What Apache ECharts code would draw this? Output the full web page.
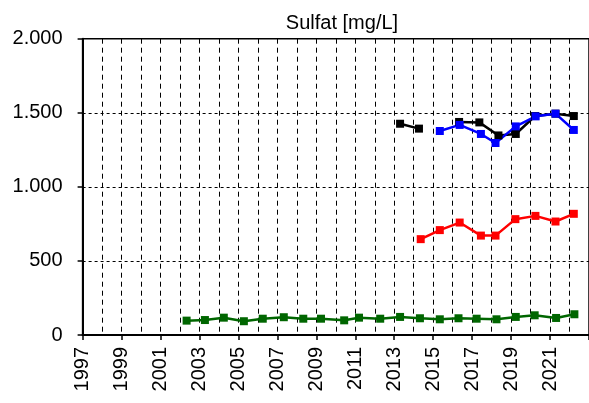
<!DOCTYPE html>
<html>
<head>
<meta charset="utf-8">
<script src="https://cdn.jsdelivr.net/npm/echarts@6/dist/echarts.min.js"></script>
<style>
	html, body { margin: 0; padding: 0; background: #fff; }
	#chart { width: 589px; height: 403px; }
</style>
</head>
<body>
<div id="chart"></div>
<script>
// sampling dates (decimal years) and Sulfat values [mg/L]
var greenYears  = [2002.34, 2003.28, 2004.25, 2005.28, 2006.25, 2007.33, 2008.33, 2009.24, 2010.43, 2011.19,
                   2012.28, 2013.30, 2014.32, 2015.34, 2016.30, 2017.23, 2018.25, 2019.24, 2020.21, 2021.31, 2022.25];
var greenValues = [97, 101, 117, 93, 110, 120, 110, 110, 99, 117,
                   110, 122, 113, 106, 113, 110, 106, 122, 133, 115, 140];

var redYears  = [2014.36, 2015.34, 2016.36, 2017.45, 2018.20, 2019.22, 2020.25, 2021.28, 2022.22];
var redValues = [647, 708, 759, 671, 671, 782, 804, 766, 818];

var blackYears  = [2013.30, 2014.27, 2015.34, 2016.33, 2017.37, 2018.35, 2019.24, 2020.23, 2021.28, 2022.22];
var blackValues = [1426, 1393, '-', 1438, 1435, 1347, 1357, 1478, 1494, 1478];

var blueYears  = [2015.34, 2016.36, 2017.45, 2018.20, 2019.24, 2020.26, 2021.28, 2022.22];
var blueValues = [1377, 1418, 1357, 1296, 1408, 1476, 1494, 1384];

var yearMin = 1997;
var yearMax = 2023;

function pairs(xs, ys) {
	var out = [];
	for (var i = 0; i < xs.length; i++) {
		out.push([xs[i], ys[i]]);
	}
	return out;
}

function germanNumber(v) {
	return String(v).replace(/\B(?=(\d{3})+(?!\d))/g, '.');
}

function lineSeries(name, color, xs, ys) {
	return {
		name: name,
		type: 'line',
		data: pairs(xs, ys),
		symbol: 'rect',
		symbolSize: 8,
		connectNulls: false,
		lineStyle: { color: color, width: 2.5 },
		itemStyle: { color: color }
	};
}

var chart = echarts.init(document.getElementById('chart'));

var labelFont = {
	fontFamily: 'Liberation Sans, Arial, sans-serif',
	fontSize: 20,
	color: '#000'
};

chart.setOption({
	animation: false,
	backgroundColor: '#fff',
	title: {
		text: 'Sulfat [mg/L]',
		left: 337,
		textAlign: 'center',
		top: 8,
		textStyle: {
			fontFamily: 'Liberation Sans, Arial, sans-serif',
			fontSize: 20,
			fontWeight: 'normal',
			color: '#000'
		}
	},
	grid: {
		left: 82.6,
		top: 38.7,
		width: 510.4,
		height: 296.3,
		show: true,
		borderColor: '#000',
		borderWidth: 1.5
	},
	xAxis: {
		type: 'value',
		min: yearMin,
		max: yearMax,
		interval: 2,
		axisLine: { show: true, onZero: false, lineStyle: { color: '#000', width: 2 } },
		axisTick: { show: true, inside: false, length: 5, lineStyle: { color: '#000', width: 1.5 } },
		minorTick: { show: false, splitNumber: 2 },
		axisLabel: {
			rotate: 90,
			margin: 12,
			fontFamily: labelFont.fontFamily,
			fontSize: labelFont.fontSize,
			color: labelFont.color,
			formatter: function (v) { return v === yearMax ? '' : String(v); }
		},
		splitLine: { show: true, lineStyle: { color: '#000', type: [5, 4], width: 1 } },
		minorSplitLine: { show: true, lineStyle: { color: '#000', type: [5, 4], width: 1 } }
	},
	yAxis: {
		type: 'value',
		min: 0,
		max: 2000,
		interval: 500,
		axisLine: { show: true, lineStyle: { color: '#000', width: 2 } },
		axisTick: { show: true, inside: false, length: 5, lineStyle: { color: '#000', width: 1.5 } },
		axisLabel: {
			margin: 20,
			fontFamily: labelFont.fontFamily,
			fontSize: labelFont.fontSize,
			color: labelFont.color,
			formatter: germanNumber
		},
		splitLine: { show: true, lineStyle: { color: '#000', type: [3, 3], width: 1 } }
	},
	series: [
		lineSeries('green', '#006600', greenYears, greenValues),
		lineSeries('red', '#ff0000', redYears, redValues),
		lineSeries('black', '#000000', blackYears, blackValues),
		lineSeries('blue', '#0000ff', blueYears, blueValues)
	]
});
</script>
</body>
</html>
